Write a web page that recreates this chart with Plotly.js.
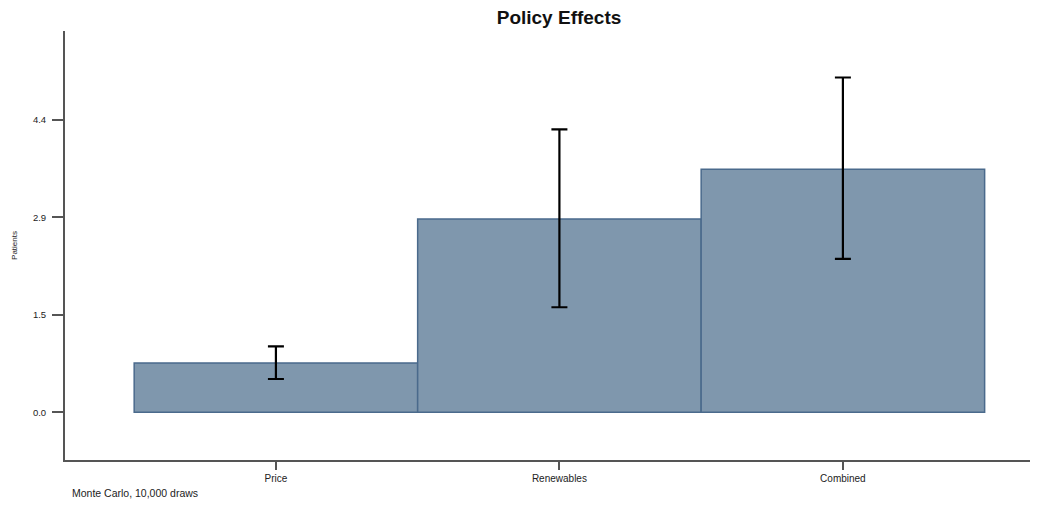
<!DOCTYPE html>
<html>
<head>
<meta charset="utf-8">
<script src="https://cdn.plot.ly/plotly-3.0.1.min.js"></script>
<style>
  html, body { margin: 0; padding: 0; background: #ffffff; }
  #chart { width: 1041px; height: 505px; }
</style>
</head>
<body>
<div id="chart"></div>
<script>
// ---- data ----
const categories = ["Price", "Renewables", "Combined"];
const effects    = [0.74, 2.91, 3.66];
const upper      = [0.99, 4.26, 5.04];
const lower      = [0.50, 1.58, 2.31];
const yTickVals  = [0, 4.4 / 3, 8.8 / 3, 4.4];
const yTickText  = ["0.0", "1.5", "2.9", "4.4"];
const titleText  = "Policy Effects";
const yTitleText = "Patients";
const noteText   = "Monte Carlo, 10,000 draws";

const errPlus  = effects.map((v, i) => upper[i] - v);
const errMinus = effects.map((v, i) => v - lower[i]);

const font = "Liberation Sans, Arial, Helvetica, sans-serif";

const trace = {
  type: "bar",
  x: categories,
  y: effects,
  width: 1.0,
  marker: {
    color: "rgb(127,151,173)",
    line: { color: "rgb(74,106,140)", width: 1.5 }
  },
  error_y: {
    type: "data",
    symmetric: false,
    array: errPlus,
    arrayminus: errMinus,
    color: "#000000",
    thickness: 2.2,
    width: 8,
    visible: true
  },
  hoverinfo: "skip"
};

const layout = {
  width: 1041,
  height: 505,
  margin: { l: 65, r: 11, t: 31, b: 44.5, pad: 0 },
  paper_bgcolor: "#ffffff",
  plot_bgcolor: "#ffffff",
  showlegend: false,
  bargap: 0,
  font: { family: font, color: "#222222", size: 9 },
  title: {
    text: titleText,
    font: { family: font, size: 19, color: "#111111", weight: "bold" },
    x: 0.537, xanchor: "center",
    y: 0.965, yanchor: "middle"
  },
  xaxis: {
    type: "category",
    range: [-0.744, 2.66],
    showline: true,
    linecolor: "#555555",
    linewidth: 2,
    ticks: "outside",
    ticklen: 8,
    tickwidth: 2,
    tickcolor: "#555555",
    showgrid: false,
    zeroline: false,
    tickfont: { family: font, size: 10, color: "#222222" },
    fixedrange: true
  },
  yaxis: {
    range: [-0.72, 5.74],
    tickmode: "array",
    tickvals: yTickVals,
    ticktext: yTickText,
    showline: true,
    linecolor: "#555555",
    linewidth: 2,
    ticks: "outside",
    ticklen: 11,
    tickwidth: 2,
    tickcolor: "#555555",
    ticklabelstandoff: 4,
    showgrid: false,
    zeroline: false,
    tickfont: { family: font, size: 9.5, color: "#222222" },
    title: {
      text: yTitleText,
      font: { family: font, size: 8, color: "#222222" },
      standoff: 14
    },
    fixedrange: true
  },
  annotations: [
    {
      text: noteText,
      xref: "paper", yref: "paper",
      x: 5 / 965, y: -33.5 / 429.5,
      xanchor: "left", yanchor: "middle",
      showarrow: false,
      font: { family: font, size: 10.5, color: "#222222" }
    }
  ]
};

Plotly.newPlot("chart", [trace], layout, { displayModeBar: false, staticPlot: true });
</script>
</body>
</html>
